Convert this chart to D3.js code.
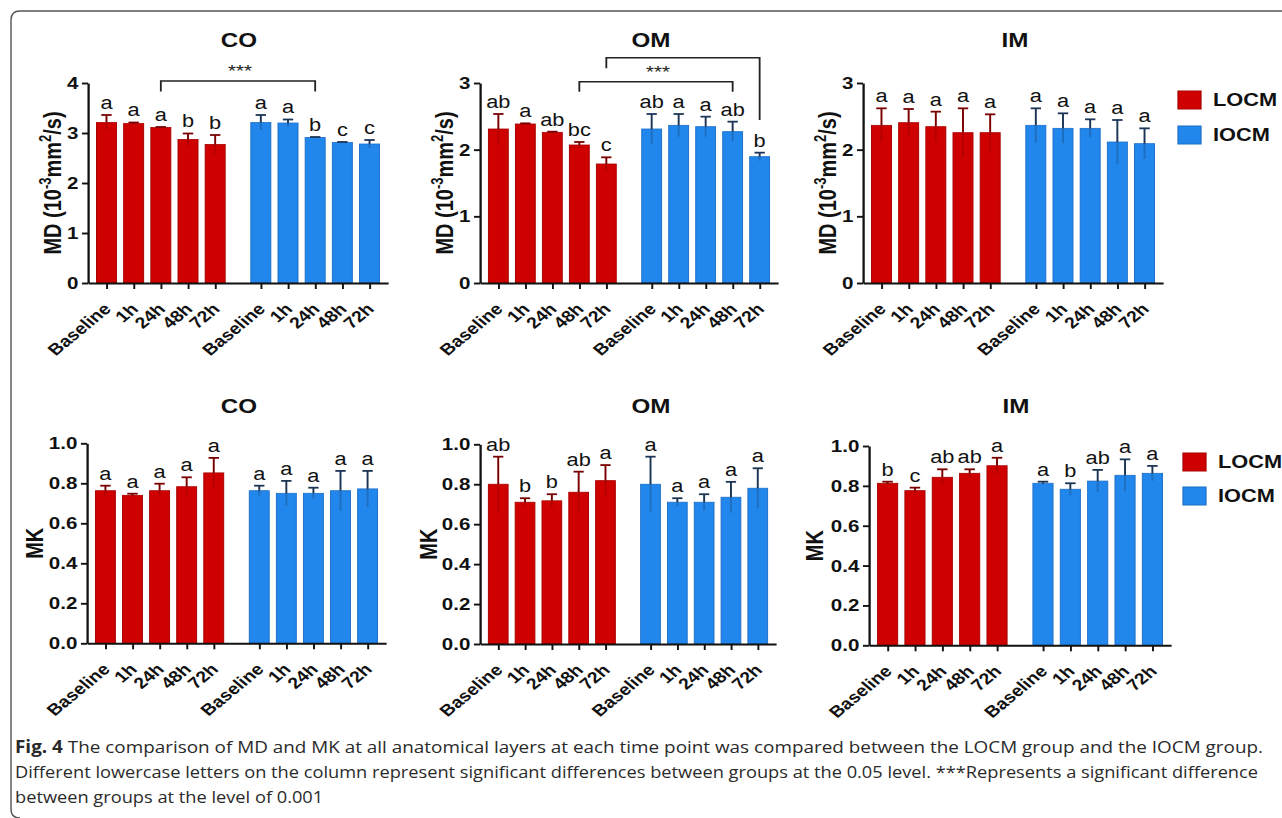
<!DOCTYPE html>
<html>
<head>
<meta charset="utf-8">
<script src="https://cdn.jsdelivr.net/npm/d3@7"></script>
<style>
  body { margin: 0; background: #fff; }
  svg { display: block; font-family: "Liberation Sans", Arial, sans-serif; }
</style>
</head>
<body>
<svg id="fig" width="1282" height="818"></svg>
<script>
// categories
const timepoints = ["Baseline", "1h", "24h", "48h", "72h"];
const groups = ["LOCM", "IOCM"];

// MD (10^-3 mm2/s): mean and SD
const md_co_locm = [3.21, 3.19, 3.11, 2.87, 2.77];
const md_co_locm_sd = [0.15, 0.02, 0.01, 0.12, 0.19];
const md_co_iocm = [3.21, 3.20, 2.91, 2.81, 2.78];
const md_co_iocm_sd = [0.15, 0.07, 0.01, 0.01, 0.08];
const md_om_locm = [2.31, 2.385, 2.26, 2.07, 1.785];
const md_om_locm_sd = [0.225, 0.01, 0.01, 0.045, 0.10];
const md_om_iocm = [2.31, 2.365, 2.345, 2.27, 1.895];
const md_om_iocm_sd = [0.225, 0.17, 0.15, 0.15, 0.06];
const md_im_locm = [2.365, 2.405, 2.345, 2.255, 2.255];
const md_im_locm_sd = [0.255, 0.205, 0.225, 0.365, 0.275];
const md_im_iocm = [2.365, 2.32, 2.32, 2.115, 2.09];
const md_im_iocm_sd = [0.255, 0.225, 0.135, 0.33, 0.23];

// MK: mean and SD
const mk_co_locm = [0.763, 0.74, 0.763, 0.783, 0.852];
const mk_co_locm_sd = [0.025, 0.008, 0.035, 0.047, 0.075];
const mk_co_iocm = [0.763, 0.75, 0.75, 0.763, 0.772];
const mk_co_iocm_sd = [0.025, 0.062, 0.028, 0.099, 0.09];
const mk_om_locm = [0.80, 0.71, 0.717, 0.76, 0.818];
const mk_om_locm_sd = [0.138, 0.02, 0.033, 0.103, 0.078];
const mk_om_iocm = [0.80, 0.71, 0.71, 0.735, 0.78];
const mk_om_iocm_sd = [0.138, 0.02, 0.04, 0.077, 0.10];
const mk_im_locm = [0.813, 0.776, 0.843, 0.863, 0.901];
const mk_im_locm_sd = [0.008, 0.015, 0.04, 0.02, 0.04];
const mk_im_iocm = [0.813, 0.783, 0.824, 0.853, 0.863];
const mk_im_iocm_sd = [0.008, 0.03, 0.056, 0.08, 0.037];

// significance letters
const md_co_letters = [["a", "a", "a", "b", "b"], ["a", "a", "b", "c", "c"]];
const md_om_letters = [["ab", "a", "ab", "bc", "c"], ["ab", "a", "a", "ab", "b"]];
const md_im_letters = [["a", "a", "a", "a", "a"], ["a", "a", "a", "a", "a"]];
const mk_co_letters = [["a", "a", "a", "a", "a"], ["a", "a", "a", "a", "a"]];
const mk_om_letters = [["ab", "b", "b", "ab", "a"], ["a", "a", "a", "a", "a"]];
const mk_im_letters = [["b", "c", "ab", "ab", "a"], ["a", "b", "ab", "a", "a"]];

// axis ticks
const md_co_ticks = [0, 1, 2, 3, 4];
const md_ticks = [0, 1, 2, 3];
const mk_ticks = [0, 0.2, 0.4, 0.6, 0.8, 1.0];

// *** brackets: [group, timepoint] ends, heights in data units
const md_co_brackets = [{from: [0, 2], to: [1, 2], top: 4.04, left: 3.83, right: 3.83, star: 4.12}];
const md_om_brackets = [
  {from: [0, 3], to: [1, 3], top: 3.02, left: 2.87, right: 2.87, star: 3.07},
  {from: [0, 4], to: [1, 4], top: 3.38, left: 3.22, right: 2.445}
];

const colors = {LOCM: "#cf0000", IOCM: "#2187ec"};
const edge = {LOCM: "#a80000", IOCM: "#1d6fc8"};
const whisk = {LOCM: "#7a0000", IOCM: "#1c3556"};

// the source figure is stretched horizontally
const S = 1.21;
const GAP = 5.68;

const panels = [
  {layer: "CO", metric: "MD", left: 88, right: 388, top: 83, bottom: 283, ymax: 4, ticks: md_co_ticks, fmt: d3.format("d"),
   series: [[md_co_locm, md_co_locm_sd], [md_co_iocm, md_co_iocm_sd]], letters: md_co_letters, brackets: md_co_brackets,
   titleX: 239, titleY: 47, labX: 61},
  {layer: "OM", metric: "MD", left: 480, right: 778, top: 83, bottom: 283, ymax: 3, ticks: md_ticks, fmt: d3.format("d"),
   series: [[md_om_locm, md_om_locm_sd], [md_om_iocm, md_om_iocm_sd]], letters: md_om_letters, brackets: md_om_brackets,
   titleX: 651, titleY: 47, labX: 453},
  {layer: "IM", metric: "MD", left: 863, right: 1163, top: 83, bottom: 283, ymax: 3, ticks: md_ticks, fmt: d3.format("d"),
   series: [[md_im_locm, md_im_locm_sd], [md_im_iocm, md_im_iocm_sd]], letters: md_im_letters, brackets: [],
   titleX: 1015, titleY: 47, labX: 836, legend: {x: 1178, y: [91, 126], tx: 1213}},
  {layer: "CO", metric: "MK", left: 87, right: 386, top: 443.3, bottom: 643.3, ymax: 1, ticks: mk_ticks, fmt: d3.format(".1f"),
   series: [[mk_co_locm, mk_co_locm_sd], [mk_co_iocm, mk_co_iocm_sd]], letters: mk_co_letters, brackets: [],
   titleX: 239, titleY: 413.5, labX: 43},
  {layer: "OM", metric: "MK", left: 480, right: 776, top: 444.3, bottom: 644, ymax: 1, ticks: mk_ticks, fmt: d3.format(".1f"),
   series: [[mk_om_locm, mk_om_locm_sd], [mk_om_iocm, mk_om_iocm_sd]], letters: mk_om_letters, brackets: [],
   titleX: 651, titleY: 413.5, labX: 437},
  {layer: "IM", metric: "MK", left: 869, right: 1171, top: 446, bottom: 645.3, ymax: 1, ticks: mk_ticks, fmt: d3.format(".1f"),
   series: [[mk_im_locm, mk_im_locm_sd], [mk_im_iocm, mk_im_iocm_sd]], letters: mk_im_letters, brackets: [],
   titleX: 1016, titleY: 413.5, labX: 823, legend: {x: 1183, y: [453, 487], tx: 1218}}
];

const svg = d3.select("#fig");

// frame of the figure box
svg.append("path")
  .attr("d", "M1282,11 H20 Q11,11 11,20 V809 Q11,818 20,818")
  .attr("fill", "none")
  .attr("stroke", "#555")
  .attr("stroke-width", 1.4);

const fig = svg.append("g").attr("transform", `scale(${S},1)`);

panels.forEach(p => {
  const g = fig.append("g");
  const x = d3.scaleLinear().domain([-0.68, 4 + GAP + 0.68]).range([p.left / S, p.right / S]);
  const y = d3.scaleLinear().domain([0, p.ymax]).range([p.bottom, p.top]);
  const pos = (gi, i) => i + gi * GAP;
  const bw = (x(1) - x(0)) * 0.735;

  const rows = [];
  p.series.forEach(([mean, sd], gi) => mean.forEach((m, i) => rows.push({
    group: groups[gi], gi, i, mean: m, sd: sd[i], letter: p.letters[gi][i]
  })));

  // bars
  g.selectAll("rect.bar").data(rows).enter()
    .append("rect")
    .attr("class", "bar")
    .attr("x", d => x(pos(d.gi, d.i)) - bw / 2)
    .attr("y", d => y(d.mean))
    .attr("width", bw)
    .attr("height", d => y(0) - y(d.mean))
    .attr("fill", d => colors[d.group])
    .attr("stroke", d => edge[d.group])
    .attr("stroke-width", 0.8);

  // error bars (upper whisker + faint lower part inside bar)
  g.selectAll("line.lo").data(rows).enter()
    .append("line")
    .attr("x1", d => x(pos(d.gi, d.i))).attr("x2", d => x(pos(d.gi, d.i)))
    .attr("y1", d => y(d.mean)).attr("y2", d => y(d.mean - d.sd))
    .attr("stroke", d => whisk[d.group]).attr("stroke-opacity", 0.3).attr("stroke-width", 1.6);
  g.selectAll("line.up").data(rows).enter()
    .append("line")
    .attr("x1", d => x(pos(d.gi, d.i))).attr("x2", d => x(pos(d.gi, d.i)))
    .attr("y1", d => y(d.mean)).attr("y2", d => y(d.mean + d.sd))
    .attr("stroke", d => whisk[d.group]).attr("stroke-width", 1.6);
  g.selectAll("line.cap").data(rows).enter()
    .append("line")
    .attr("x1", d => x(pos(d.gi, d.i)) - bw * 0.26).attr("x2", d => x(pos(d.gi, d.i)) + bw * 0.26)
    .attr("y1", d => y(d.mean + d.sd)).attr("y2", d => y(d.mean + d.sd))
    .attr("stroke", d => whisk[d.group]).attr("stroke-width", 1.8);

  // letters
  g.selectAll("text.letter").data(rows).enter()
    .append("text")
    .attr("x", d => x(pos(d.gi, d.i)))
    .attr("y", d => y(d.mean + d.sd) - 6)
    .attr("text-anchor", "middle")
    .attr("font-size", 18)
    .attr("fill", "#111")
    .text(d => d.letter);

  // y axis
  const ay = g.append("g")
    .attr("transform", `translate(${p.left / S},0)`)
    .call(d3.axisLeft(y).tickValues(p.ticks).tickFormat(p.fmt).tickSize(5).tickSizeOuter(0).tickPadding(3));
  ay.select(".domain").attr("stroke", "#111").attr("stroke-width", 1.9);
  ay.selectAll(".tick line").attr("stroke", "#111").attr("stroke-width", 1.9);
  ay.selectAll(".tick text")
    .attr("font-family", "Liberation Sans, Arial, sans-serif")
    .attr("font-size", 17).attr("font-weight", "bold").attr("fill", "#111");

  // x axis
  const xt = [];
  groups.forEach((_, gi) => timepoints.forEach((_, i) => xt.push(pos(gi, i))));
  const ax = g.append("g")
    .attr("transform", `translate(0,${p.bottom})`)
    .call(d3.axisBottom(x).tickValues(xt).tickFormat((d, k) => timepoints[k % 5]).tickSize(6).tickSizeOuter(0));
  ax.select(".domain").attr("stroke", "#111").attr("stroke-width", 2);
  ax.selectAll(".tick line").attr("stroke", "#111").attr("stroke-width", 1.6);
  ax.selectAll(".tick text")
    .attr("font-family", "Liberation Sans, Arial, sans-serif")
    .attr("font-size", 16).attr("font-weight", "bold").attr("fill", "#111")
    .attr("text-anchor", "end")
    .attr("x", 0).attr("y", 0).attr("dy", null)
    .attr("transform", `translate(${5 / S},27) rotate(-45)`);

  // brackets
  const line = d3.line();
  p.brackets.forEach(b => {
    const xl = x(pos(b.from[0], b.from[1])), xr = x(pos(b.to[0], b.to[1]));
    g.append("path")
      .attr("d", line([[xl, y(b.left)], [xl, y(b.top)], [xr, y(b.top)], [xr, y(b.right)]]))
      .attr("fill", "none").attr("stroke", "#222").attr("stroke-width", 1.5);
    if (b.star) {
      g.append("text")
        .attr("x", (xl + xr) / 2 + 2 / S).attr("y", y(b.star))
        .attr("text-anchor", "middle").attr("font-size", 17).attr("fill", "#222")
        .text("***");
    }
  });

  // title
  g.append("text")
    .attr("x", p.titleX / S).attr("y", p.titleY)
    .attr("text-anchor", "middle").attr("font-size", 20).attr("font-weight", "bold").attr("fill", "#111")
    .text(p.layer);

  // y label
  const cy = (p.top + p.bottom) / 2;
  const yl = g.append("text")
    .attr("transform", `translate(${p.labX / S},${cy}) rotate(-90)`)
    .attr("text-anchor", "middle").attr("font-size", 20).attr("font-weight", "bold").attr("fill", "#111");
  if (p.metric === "MD") {
    yl.append("tspan").text("MD (10");
    yl.append("tspan").attr("font-size", 13).attr("dy", -8).text("-3");
    yl.append("tspan").attr("dy", 8).text("mm");
    yl.append("tspan").attr("font-size", 13).attr("dy", -8).text("2");
    yl.append("tspan").attr("dy", 8).text("/s)");
  } else {
    yl.text("MK");
  }

  // legend
  if (p.legend) {
    const lg = g.append("g");
    lg.selectAll("rect").data(groups).enter()
      .append("rect")
      .attr("x", p.legend.x / S).attr("y", (d, k) => p.legend.y[k])
      .attr("width", 23 / S).attr("height", 18)
      .attr("fill", d => colors[d]).attr("stroke", d => edge[d]).attr("stroke-width", 1);
    lg.selectAll("text").data(groups).enter()
      .append("text")
      .attr("x", p.legend.tx / S).attr("y", (d, k) => p.legend.y[k] + 9 + 6.5)
      .attr("font-size", 18).attr("font-weight", "bold").attr("fill", "#111")
      .text(d => d);
  }
});

// caption (condensed look: larger font squeezed to the measured line width)
const cap = svg.append("g")
  .attr("font-family", "'Open Sans', 'Noto Sans', sans-serif")
  .attr("font-size", 17)
  .attr("fill", "#2a2a2a");
const l1 = cap.append("text").attr("x", 15).attr("y", 753);
l1.append("tspan").attr("font-weight", "bold").text("Fig. 4");
l1.append("tspan").text("  The comparison of MD and MK at all anatomical layers at each time point was compared between the LOCM group and the IOCM group.");
const l2 = cap.append("text").attr("x", 15).attr("y", 778)
  .text("Different lowercase letters on the column represent significant differences between groups at the 0.05 level. ***Represents a significant difference");
const l3 = cap.append("text").attr("x", 15).attr("y", 803)
  .text("between groups at the level of 0.001");
const squeeze = 1243 / l2.node().getComputedTextLength();
l1.attr("textLength", 1248).attr("lengthAdjust", "spacingAndGlyphs");
l2.attr("textLength", 1243).attr("lengthAdjust", "spacingAndGlyphs");
l3.attr("textLength", l3.node().getComputedTextLength() * squeeze).attr("lengthAdjust", "spacingAndGlyphs");
</script>
</body>
</html>
